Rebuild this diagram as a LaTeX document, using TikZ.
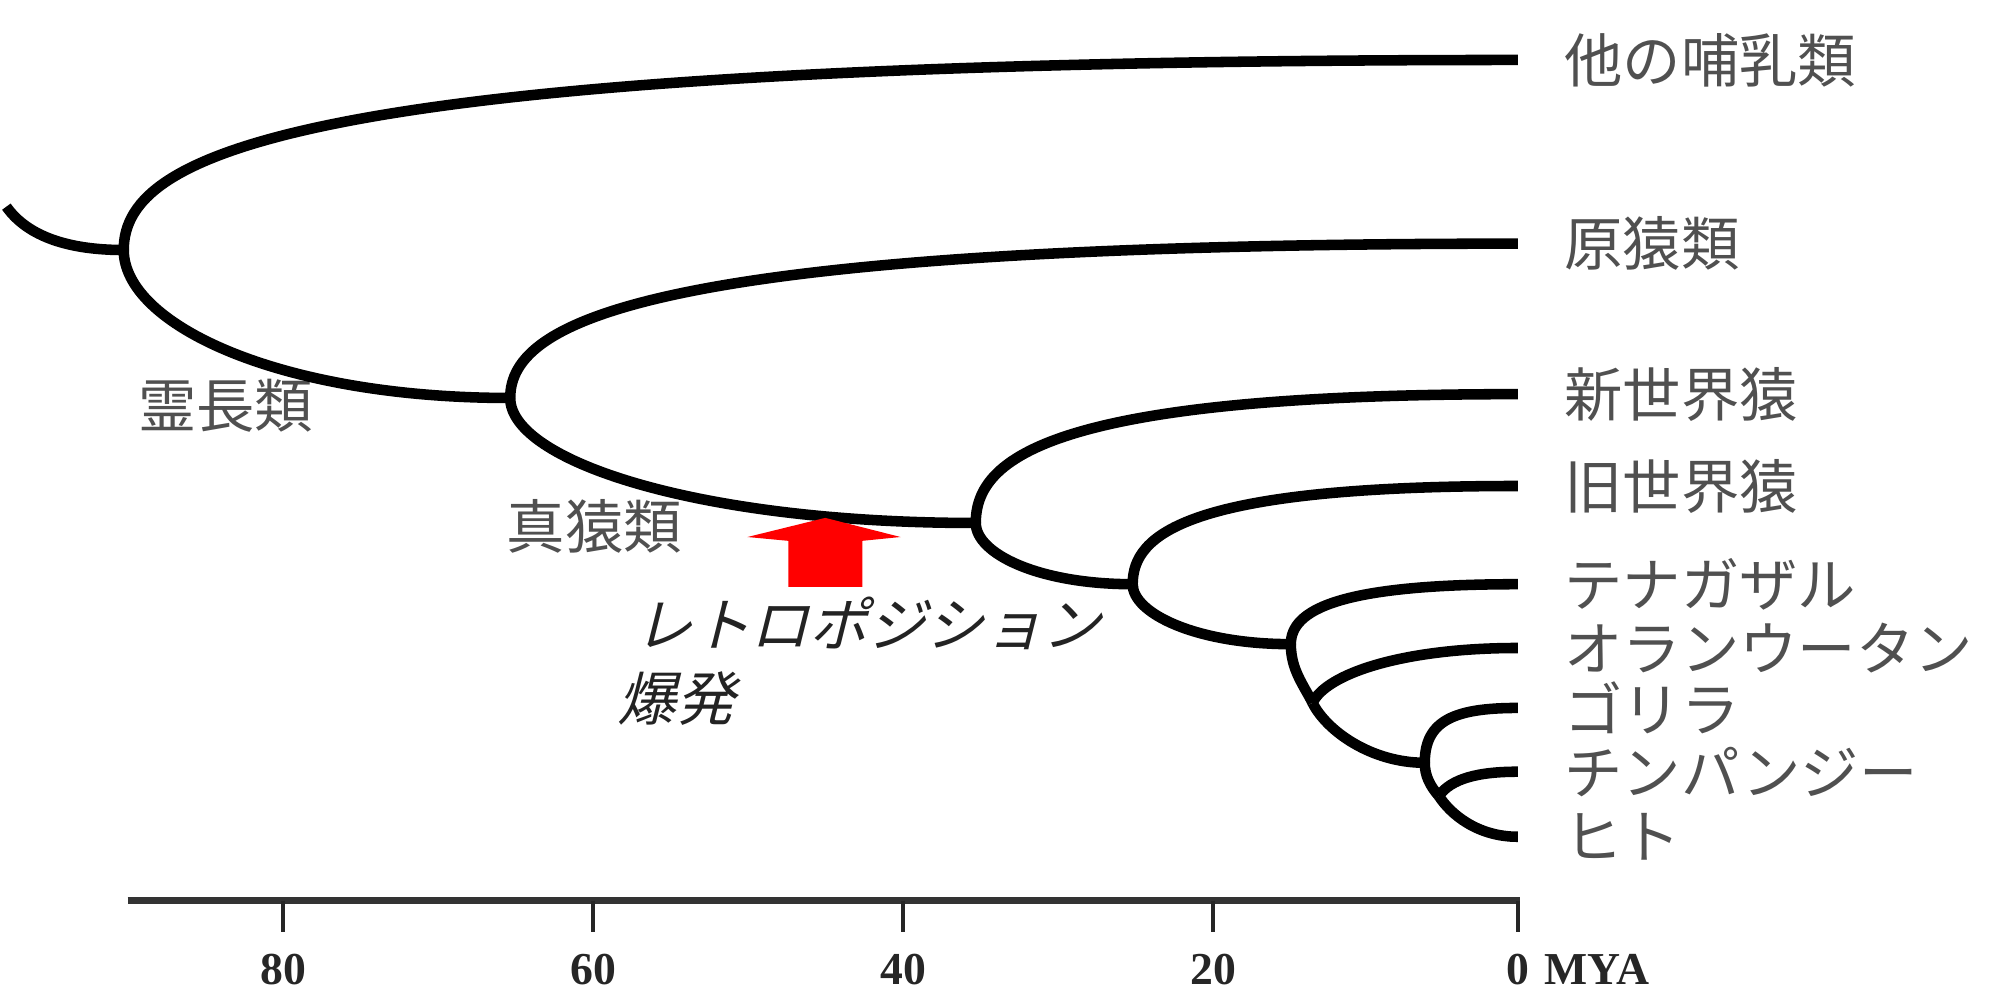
\documentclass[tikz,border=0pt]{standalone}
\usepackage{fontspec}
\newfontfamily\jp{Noto Sans CJK JP}
\newfontfamily\jpit{Noto Sans CJK JP}[FakeSlant=0.25]
\newfontfamily\axf{Liberation Serif}
\definecolor{labelgray}{RGB}{80,80,80}
\definecolor{itgray}{RGB}{35,35,35}
\definecolor{arrowred}{RGB}{255,0,0}
\begin{document}
\begin{tikzpicture}[x=0.012755cm,y=-0.012755cm,
  br/.style={line width=3pt, black},
  leaf/.style={anchor=west, inner sep=0pt, font=\jp\fontsize{16.6}{18}\selectfont, text=labelgray},
  clade/.style={inner sep=0pt, font=\jp\fontsize{16.6}{18}\selectfont, text=labelgray},
  ital/.style={inner sep=0pt, font=\jpit\fontsize{16.6}{18}\selectfont, text=itgray},
  axline/.style={line width=2.2pt, black!80},
  tickline/.style={line width=1.2pt, black!85},
  num/.style={inner sep=0pt, font=\axf\bfseries\fontsize{13}{15}\selectfont, text=black!85}]
\useasboundingbox (0,0) rectangle (1568,784);

% branch points
\coordinate (r0) at (5,162);
\coordinate (n0) at (97,196);
\coordinate (n1) at (400,312);
\coordinate (n2) at (765,410);
\coordinate (n3) at (888,458);
\coordinate (n4) at (1012,505);
\coordinate (n5) at (1029,551);
\coordinate (n6) at (1117,598);
\coordinate (n7) at (1128,624);
% leaf ends
\coordinate (e1) at (1190,47);
\coordinate (e2) at (1190,191);
\coordinate (e3) at (1190,309);
\coordinate (e4) at (1190,381);
\coordinate (e5) at (1190,458);
\coordinate (e6) at (1190,508);
\coordinate (e7) at (1190,555);
\coordinate (e8) at (1190,605);
\coordinate (e9) at (1190,656);

% leaf labels
\node[leaf] (l1) at (1226,47) {他の哺乳類};
\node[leaf] (l2) at (1226,191) {原猿類};
\node[leaf] (l3) at (1226,309) {新世界猿};
\node[leaf] (l4) at (1226,381) {旧世界猿};
\node[leaf] (l5) at (1226,458) {テナガザル};
\node[leaf] (l6) at (1226,508) {オランウータン};
\node[leaf] (l7) at (1226,555) {ゴリラ};
\node[leaf] (l8) at (1226,605) {チンパンジー};
\node[leaf] (l9) at (1226,656) {ヒト};

% clade labels
\node[clade] (c1) at (177,318) {霊長類};
\node[clade] (c2) at (466,413) {真猿類};
\node[ital] (rt) at (680,489) {レトロポジション};
\node[ital] (bk) at (530,548) {爆発};

% branches
\draw[br] (r0) .. controls (22,186) and (55,196) .. (n0);
\draw[br] (n0) .. controls (97,118) and (240,47) .. (e1);
\draw[br] (n0) .. controls (97,254) and (218,312) .. (n1);
\draw[br] (n1) .. controls (400,251) and (510,191) .. (e2);
\draw[br] (n1) .. controls (400,361) and (546,410) .. (n2);
\draw[br] (n2) .. controls (765,359) and (824,309) .. (e3);
\draw[br] (n2) .. controls (765,434) and (814,458) .. (n3);
\draw[br] (n3) .. controls (888,419) and (930,381) .. (e4);
\draw[br] (n3) .. controls (888,481) and (938,505) .. (n4);
\draw[br] (n4) .. controls (1012,478) and (1050,458) .. (e5);
\draw[br] (n4) .. controls (1012,525) and (1022,537) .. (n5);
\draw[br] (n5) .. controls (1040,528) and (1100,508) .. (e6);
\draw[br] (n5) .. controls (1040,573) and (1075,598) .. (n6);
\draw[br] (n6) .. controls (1117,565) and (1140,555) .. (e7);
\draw[br] (n6) .. controls (1117,608) and (1121,616) .. (n7);
\draw[br] (n7) .. controls (1138,610) and (1160,605) .. (e8);
\draw[br] (n7) .. controls (1137,638) and (1158,656) .. (e9);

% red arrow
\fill[arrowred] (647,406) -- (706,421) -- (676,424) -- (676,460) -- (618,460) -- (618,424) -- (586,421) -- cycle;

% time axis
\coordinate (a0) at (100,706);
\coordinate (a1) at (1192,706);
\draw[axline] (a0) -- (a1);
\foreach \xx/\lab in {222/80,465/60,708/40,951/20}{
  \draw[tickline] (\xx,706) -- (\xx,731);
  \node[num] at (\xx,760) {\lab};
}
\draw[tickline] (1190,706) -- (1190,731);
\node[num] (t0) at (1190,760) {0};
\node[num, anchor=west] (mya) at ([xshift=4pt]t0.east) {MYA};
\end{tikzpicture}
\end{document}
